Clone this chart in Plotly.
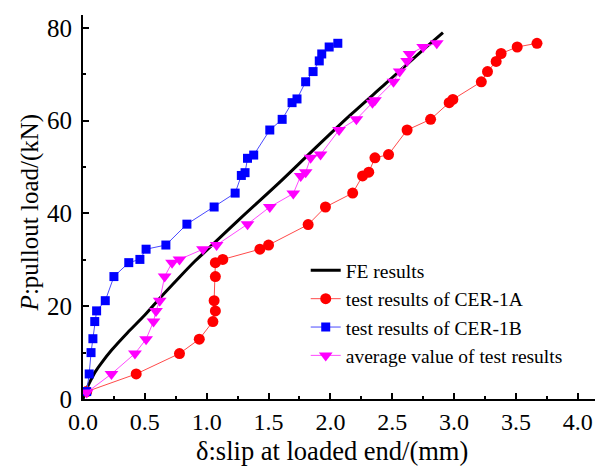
import plotly.graph_objects as go

# FE results
fe_x = [0, 0.03, 0.06, 0.10, 0.15, 0.23, 0.36, 0.50, 0.63, 0.77, 0.90, 1.00, 1.27, 1.58, 1.85, 2.16, 2.45, 2.72, 2.91]
fe_y = [0, 2.2, 3.9, 5.9, 7.8, 10.5, 14.3, 18.1, 22.0, 26.0, 29.6, 32.1, 38.9, 46.5, 53.4, 61.2, 68.1, 74.6, 79.0]

# test results of CER-1A
a_x = [0.03, 0.43, 0.78, 0.94, 1.05, 1.07, 1.06, 1.07, 1.07, 1.13, 1.43, 1.50, 1.82, 1.96, 2.18,
       2.26, 2.31, 2.36, 2.47, 2.62, 2.81, 2.96, 2.99, 3.22, 3.27, 3.34, 3.38, 3.51, 3.67]
a_y = [1.6, 5.4, 9.8, 12.9, 16.7, 19.0, 21.2, 26.4, 29.4, 30.1, 32.3, 33.2, 37.6, 41.4, 44.4,
       48.1, 48.9, 52.0, 52.7, 58.0, 60.3, 63.9, 64.6, 68.4, 70.6, 72.8, 74.5, 75.9, 76.7]

# test results of CER-1B
b_x = [0.03, 0.05, 0.065, 0.08, 0.095, 0.11, 0.18, 0.25, 0.37, 0.46, 0.51, 0.67, 0.84, 1.06, 1.23,
       1.28, 1.31, 1.33, 1.38, 1.51, 1.61, 1.69, 1.73, 1.80, 1.86, 1.91, 1.93, 1.99, 2.06]
b_y = [1.6, 5.4, 10.0, 13.0, 16.7, 19.0, 21.2, 26.4, 29.4, 30.1, 32.3, 33.2, 37.7, 41.4, 44.4,
       48.2, 48.8, 51.9, 52.6, 58.0, 60.3, 63.9, 64.7, 68.4, 70.6, 72.9, 74.4, 75.9, 76.7]

# average value of test results
m_x = [0.03, 0.23, 0.42, 0.51, 0.57, 0.59, 0.62, 0.66, 0.72, 0.78, 0.97, 1.08, 1.33, 1.51, 1.70,
       1.76, 1.80, 1.84, 1.92, 2.07, 2.21, 2.34, 2.36, 2.51, 2.56, 2.62, 2.64, 2.75, 2.86]
m_y = [1.4, 5.4, 9.8, 12.9, 16.7, 19.0, 21.2, 26.4, 29.4, 30.1, 32.3, 33.2, 37.7, 41.4, 44.3,
       48.1, 48.9, 52.0, 52.7, 58.0, 60.3, 63.9, 64.4, 68.4, 70.6, 72.9, 74.4, 75.9, 76.7]

x_ticks = [0.0, 0.5, 1.0, 1.5, 2.0, 2.5, 3.0, 3.5, 4.0]
y_ticks = [0, 20, 40, 60, 80]

FONT = "Liberation Serif"

fig = go.Figure()
fig.add_trace(go.Scatter(x=fe_x, y=fe_y, mode="lines", name="FE results",
                         line=dict(color="black", width=3, shape="spline", smoothing=0.8)))
fig.add_trace(go.Scatter(x=a_x, y=a_y, mode="lines+markers", name="test results of CER-1A",
                         line=dict(color="#ff4a4a", width=1),
                         marker=dict(symbol="circle", size=11, color="#ff0000")))
fig.add_trace(go.Scatter(x=b_x, y=b_y, mode="lines+markers", name="test results of CER-1B",
                         line=dict(color="#4a4aff", width=1),
                         marker=dict(symbol="square", size=9, color="#0000ff")))
fig.add_trace(go.Scatter(x=m_x, y=m_y, mode="lines+markers", name="average value of test results",
                         line=dict(color="#ff4aff", width=1),
                         marker=dict(symbol="triangle-down", size=12, color="#ff00ff")))

fig.update_layout(
    width=595, height=468,
    margin=dict(l=83, r=0, t=15, b=69),
    paper_bgcolor="white", plot_bgcolor="white",
    font=dict(family=FONT, color="black", size=20),
    showlegend=True,
    legend=dict(x=0.435, y=0.385, xanchor="left", yanchor="top",
                bgcolor="rgba(0,0,0,0)", font=dict(family=FONT, size=19.5),
                tracegroupgap=0),
    xaxis=dict(range=[0, 4.139], tickvals=x_ticks, ticktext=[f"{v:.1f}" for v in x_ticks],
               showgrid=False, zeroline=False, showline=True, linecolor="black", linewidth=2,
               ticks="inside", ticklen=6, tickwidth=2, tickcolor="black",
               minor=dict(ticks="inside", dtick=0.25, tick0=0, ticklen=3, tickwidth=2, tickcolor="black"),
               tickfont=dict(size=24, family=FONT), ticklabelstandoff=0),
    yaxis=dict(range=[0, 82.8], tickvals=y_ticks,
               showgrid=False, zeroline=False, showline=True, linecolor="black", linewidth=2,
               ticks="inside", ticklen=6, tickwidth=2, tickcolor="black",
               minor=dict(ticks="inside", dtick=10, tick0=0, ticklen=3, tickwidth=2, tickcolor="black"),
               tickfont=dict(size=25, family=FONT), ticklabelstandoff=4),
    annotations=[
        dict(text="δ:slip at loaded end/(mm)", xref="paper", yref="paper", x=0.486, y=-0.1354,
             xanchor="center", yanchor="middle", showarrow=False,
             font=dict(size=26.5, family=FONT, color="black")),
        dict(text="<i>P</i>:pullout load/(kN)", xref="paper", yref="paper", x=-0.1035, y=0.486,
             xanchor="center", yanchor="middle", textangle=-90, showarrow=False,
             font=dict(size=25, family=FONT, color="black")),
    ],
)

fig.write_html("out.html")
